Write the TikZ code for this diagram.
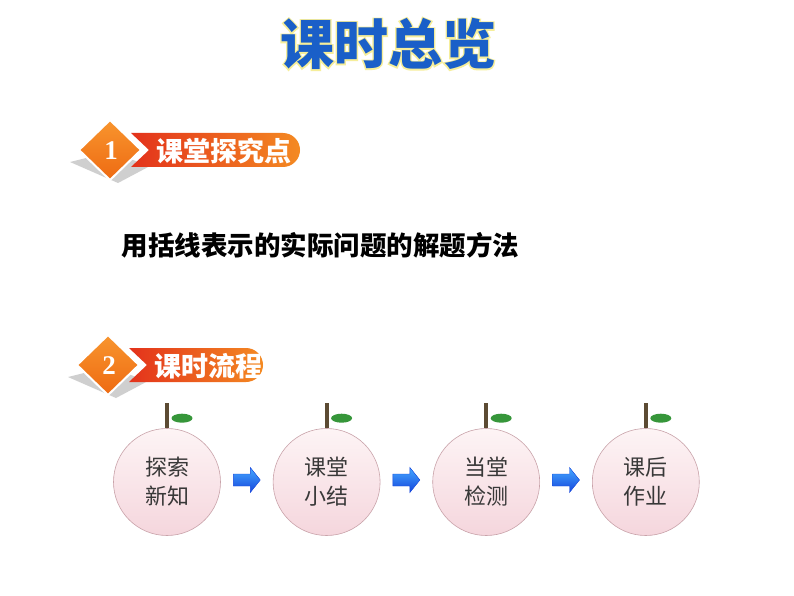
\documentclass[tikz,border=0pt]{standalone}
\usepackage{fontspec}
\newfontfamily\cjk{Noto Sans CJK SC}
\newfontfamily\cjkglow{Noto Sans CJK SC}[FakeBold=5]
\newfontfamily\numfont{Liberation Serif}
\usetikzlibrary{positioning,calc}
\definecolor{bannerred}{HTML}{E3321B}
\definecolor{bannerorange}{HTML}{F48A22}
\definecolor{diamondtop}{HTML}{F8952E}
\definecolor{diamondbot}{HTML}{EE6A12}
\definecolor{shadowgray}{HTML}{CFCFCF}
\definecolor{titleblue}{HTML}{1A5FC8}
\definecolor{glow}{HTML}{F6EE9A}
\definecolor{stem}{HTML}{5C4B33}
\definecolor{leaf}{HTML}{36963A}
\definecolor{peachtop}{HTML}{FDF4F5}
\definecolor{peachbot}{HTML}{F5D6DD}
\definecolor{peachline}{HTML}{C9A3AA}
\definecolor{arrowlight}{HTML}{45A8FF}
\definecolor{arrowdark}{HTML}{1546DC}
% number diamond + banner
\newcommand{\lessonhead}[6]{%
\begin{scope}[shift={(#1,#2)}]
\fill[shadowgray] (-40,12) -- (0,2) -- (40,16) -- (8,33) -- cycle;
\shade[left color=bannerred,right color=bannerorange] (21,-17) -- (#5,-17) arc[start angle=90,end angle=-90,radius=17pt] -- (21,17) -- (39,0) -- cycle;
\shade[top color=diamondtop,bottom color=diamondbot,draw=white,line width=2pt] (0,-30) -- (31,0) -- (0,30) -- (-31,0) -- cycle;
\node[text=white] (#6num) at (1,1) {\numfont\bfseries\fontsize{27}{27}\selectfont #3};
\node[anchor=west,text=white] (#6) at (43,1) {\cjk\bfseries\fontsize{27}{27}\selectfont #4};
\end{scope}}
\begin{document}
\begin{tikzpicture}[x=1pt,y=-1pt,
  peach/.style={circle,draw=peachline,line width=0.6pt,top color=peachtop,bottom color=peachbot,
    minimum size=107pt,inner sep=0pt,align=center,text=black!78,
    font=\cjk\fontsize{22}{29}\selectfont},
  bluearrow/.style={draw=arrowdark,line width=0.4pt,top color=arrowlight,bottom color=arrowdark}]
\useasboundingbox[fill=white] (0,0) rectangle (794,596);

% title with glow
\node[text=glow] (titleglow) at (388,44) {\cjkglow\bfseries\fontsize{54}{54}\selectfont 课时总览};
\node[text=titleblue] (title) at (388,44) {\cjk\bfseries\fontsize{54}{54}\selectfont 课时总览};

\lessonhead{110}{150}{1}{课堂探究点}{173}{head1}
\node[anchor=west] (point) at (118,245) {\cjk\bfseries\fontsize{26.5}{30}\selectfont 用括线表示的实际问题的解题方法};

\lessonhead{108}{365}{2}{课时流程}{138}{head2}

% flow
\node[peach] (tansuo) at (167,482) {探索\\新知};
\node[peach,right=52pt of tansuo] (xiaojie) {课堂\\小结};
\node[peach,right=52pt of xiaojie] (jiance) {当堂\\检测};
\node[peach,right=52pt of jiance] (zuoye) {课后\\作业};
\foreach \n in {tansuo,xiaojie,jiance,zuoye}{
  \draw[stem,line width=4pt] (\n.north) -- ++(0,-25);
  \fill[leaf] ($(\n.north)+(15,-10)$) ellipse [x radius=10.5pt,y radius=4.5pt];
}
\foreach \a/\b in {tansuo/xiaojie,xiaojie/jiance,jiance/zuoye}{
  \coordinate (mid) at ($(\a)!0.5!(\b)+(0,-2)$);
  \shade[bluearrow,shift={(mid)}] (-13.5,-6) -- (3.5,-6) -- (3.5,-12.5) -- (13.5,0)
    -- (3.5,12.5) -- (3.5,6) -- (-13.5,6) -- cycle;
}
\end{tikzpicture}
\end{document}
